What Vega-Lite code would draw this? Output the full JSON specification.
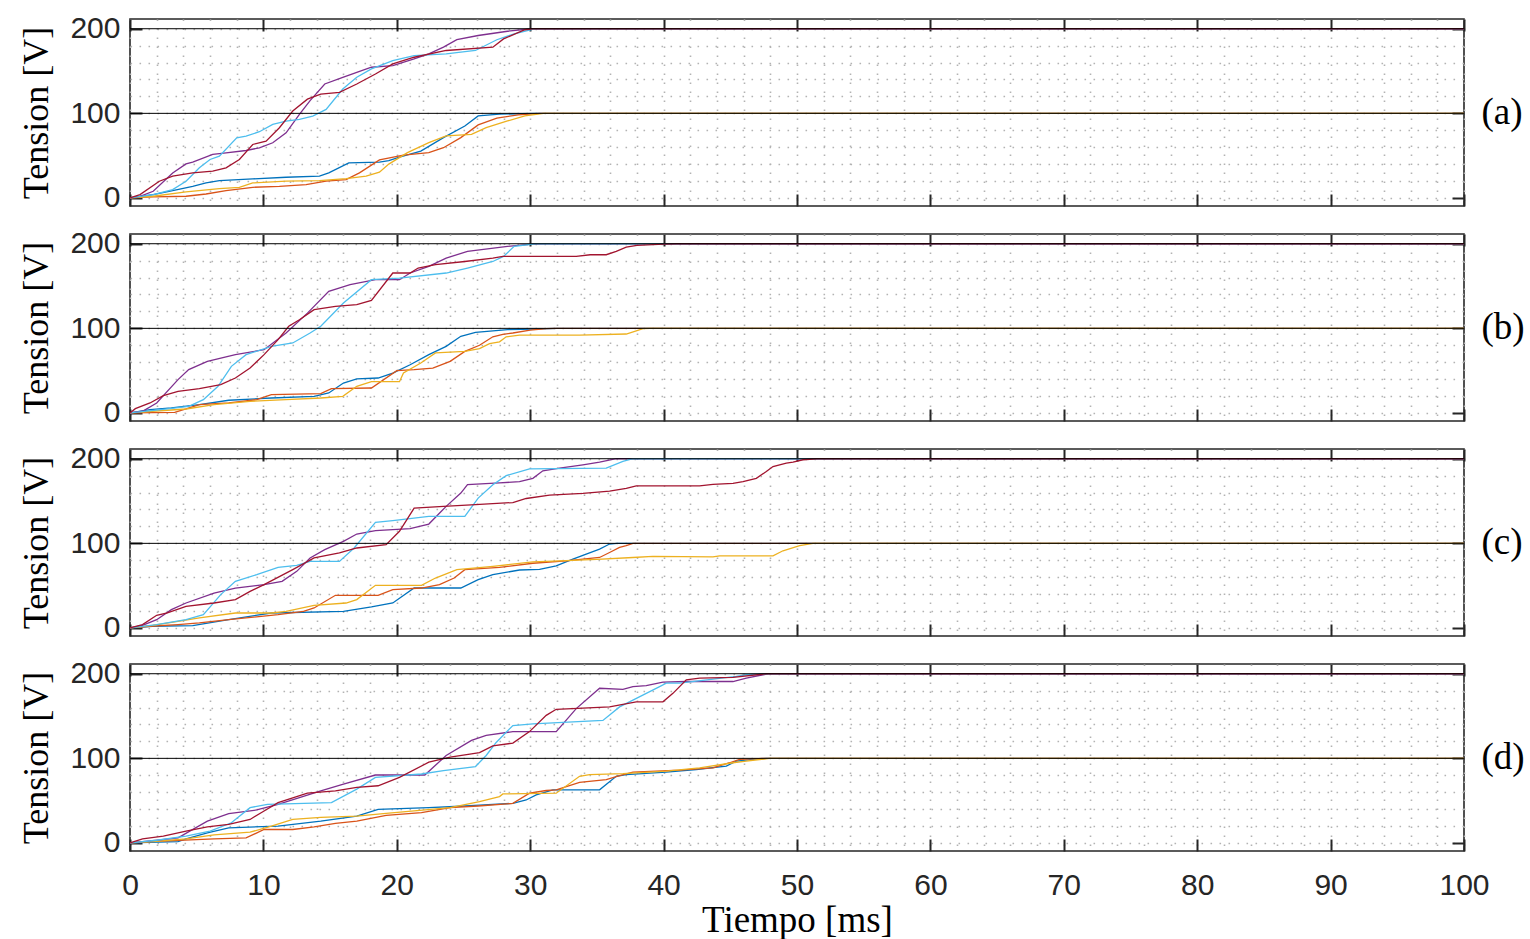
{
"$schema":"https://vega.github.io/schema/vega-lite/v6.json",
"background":"white",
"padding":{"left":18,"top":12,"right":0,"bottom":0},
"bounds":"flush",
"spacing":28,
"config":{"view":{"stroke":"#262626","strokeWidth":1.6},"axis":{"domain":false}},
"data":{"values":[
{"p":"a","s":"B","t":0,"v":0},{"p":"a","s":"B","t":0.75,"v":2},{"p":"a","s":"B","t":1.74,"v":4},{"p":"a","s":"B","t":3.2,"v":8.7},{"p":"a","s":"B","t":4.7,"v":13.8},{"p":"a","s":"B","t":5.7,"v":17.8},{"p":"a","s":"B","t":6.7,"v":20.6},{"p":"a","s":"B","t":9.2,"v":22.5},{"p":"a","s":"B","t":11.7,"v":24.5},{"p":"a","s":"B","t":14.2,"v":25.7},{"p":"a","s":"B","t":14.9,"v":29.6},{"p":"a","s":"B","t":16.4,"v":41.5},{"p":"a","s":"B","t":18.7,"v":42.3},{"p":"a","s":"B","t":19.4,"v":44},{"p":"a","s":"B","t":20.2,"v":48.3},{"p":"a","s":"B","t":21.8,"v":55.4},{"p":"a","s":"B","t":23.5,"v":71.3},{"p":"a","s":"B","t":25.1,"v":85.1},{"p":"a","s":"B","t":26.1,"v":97},{"p":"a","s":"B","t":27.7,"v":99},{"p":"a","s":"B","t":30.4,"v":100},{"p":"a","s":"B","t":100,"v":100},
{"p":"a","s":"O","t":0,"v":0},{"p":"a","s":"O","t":1.74,"v":1.2},{"p":"a","s":"O","t":4.2,"v":2},{"p":"a","s":"O","t":5.7,"v":4.7},{"p":"a","s":"O","t":7.2,"v":8.7},{"p":"a","s":"O","t":9.2,"v":12.6},{"p":"a","s":"O","t":11.2,"v":13.8},{"p":"a","s":"O","t":13.2,"v":15.8},{"p":"a","s":"O","t":14.7,"v":19.8},{"p":"a","s":"O","t":16.2,"v":21.7},{"p":"a","s":"O","t":17.2,"v":29.6},{"p":"a","s":"O","t":18.7,"v":45},{"p":"a","s":"O","t":20.5,"v":50.7},{"p":"a","s":"O","t":22.4,"v":53.5},{"p":"a","s":"O","t":23.5,"v":59.4},{"p":"a","s":"O","t":24.8,"v":71.3},{"p":"a","s":"O","t":26.1,"v":86.3},{"p":"a","s":"O","t":27.5,"v":94.3},{"p":"a","s":"O","t":29.1,"v":98.2},{"p":"a","s":"O","t":30.7,"v":100},{"p":"a","s":"O","t":100,"v":100},
{"p":"a","s":"Y","t":0,"v":0},{"p":"a","s":"Y","t":1.74,"v":2},{"p":"a","s":"Y","t":4.2,"v":7.1},{"p":"a","s":"Y","t":6.7,"v":11},{"p":"a","s":"Y","t":8.2,"v":12.6},{"p":"a","s":"Y","t":9.2,"v":17.8},{"p":"a","s":"Y","t":11.7,"v":19.8},{"p":"a","s":"Y","t":14.2,"v":20.6},{"p":"a","s":"Y","t":16.2,"v":22.9},{"p":"a","s":"Y","t":17.7,"v":25.7},{"p":"a","s":"Y","t":18.7,"v":30.4},{"p":"a","s":"Y","t":19.4,"v":40},{"p":"a","s":"Y","t":20.8,"v":53.5},{"p":"a","s":"Y","t":22.4,"v":65.3},{"p":"a","s":"Y","t":23.7,"v":73.3},{"p":"a","s":"Y","t":25.6,"v":75.2},{"p":"a","s":"Y","t":26.7,"v":83.2},{"p":"a","s":"Y","t":28.3,"v":91},{"p":"a","s":"Y","t":29.6,"v":97},{"p":"a","s":"Y","t":31,"v":100},{"p":"a","s":"Y","t":100,"v":100},
{"p":"a","s":"P","t":0,"v":0},{"p":"a","s":"P","t":0.75,"v":2},{"p":"a","s":"P","t":1.74,"v":7.9},{"p":"a","s":"P","t":3.2,"v":29.6},{"p":"a","s":"P","t":4.2,"v":40.3},{"p":"a","s":"P","t":4.7,"v":42.3},{"p":"a","s":"P","t":6.2,"v":51.4},{"p":"a","s":"P","t":7.2,"v":53.4},{"p":"a","s":"P","t":8.7,"v":56.1},{"p":"a","s":"P","t":9.7,"v":59.3},{"p":"a","s":"P","t":10.7,"v":65.2},{"p":"a","s":"P","t":11.7,"v":77},{"p":"a","s":"P","t":12.7,"v":98.8},{"p":"a","s":"P","t":13.5,"v":115},{"p":"a","s":"P","t":14.6,"v":134.7},{"p":"a","s":"P","t":15.95,"v":142.6},{"p":"a","s":"P","t":17,"v":148.5},{"p":"a","s":"P","t":18.1,"v":154.5},{"p":"a","s":"P","t":19.7,"v":156.4},{"p":"a","s":"P","t":21.3,"v":164.4},{"p":"a","s":"P","t":22.4,"v":170.3},{"p":"a","s":"P","t":23.5,"v":178.2},{"p":"a","s":"P","t":24.5,"v":187},{"p":"a","s":"P","t":26.1,"v":192},{"p":"a","s":"P","t":28.3,"v":197},{"p":"a","s":"P","t":30.1,"v":200},{"p":"a","s":"P","t":100,"v":200},
{"p":"a","s":"L","t":0,"v":0},{"p":"a","s":"L","t":1.74,"v":4},{"p":"a","s":"L","t":3.2,"v":9.9},{"p":"a","s":"L","t":4.2,"v":19.8},{"p":"a","s":"L","t":5.2,"v":35.6},{"p":"a","s":"L","t":6,"v":45.5},{"p":"a","s":"L","t":6.7,"v":49.4},{"p":"a","s":"L","t":8,"v":71.1},{"p":"a","s":"L","t":8.7,"v":73.1},{"p":"a","s":"L","t":9.7,"v":78.3},{"p":"a","s":"L","t":10.7,"v":87},{"p":"a","s":"L","t":11.7,"v":90.9},{"p":"a","s":"L","t":12.7,"v":92.9},{"p":"a","s":"L","t":13.7,"v":96.8},{"p":"a","s":"L","t":14.7,"v":104.7},{"p":"a","s":"L","t":15.95,"v":128.7},{"p":"a","s":"L","t":17,"v":142.6},{"p":"a","s":"L","t":18.1,"v":152.5},{"p":"a","s":"L","t":19.7,"v":162.4},{"p":"a","s":"L","t":21.3,"v":168.3},{"p":"a","s":"L","t":23.7,"v":170.3},{"p":"a","s":"L","t":25.9,"v":174.3},{"p":"a","s":"L","t":27.5,"v":187},{"p":"a","s":"L","t":28.8,"v":194},{"p":"a","s":"L","t":30.4,"v":200},{"p":"a","s":"L","t":100,"v":200},
{"p":"a","s":"R","t":0,"v":0},{"p":"a","s":"R","t":0.75,"v":4},{"p":"a","s":"R","t":2.2,"v":19.8},{"p":"a","s":"R","t":3.2,"v":25.7},{"p":"a","s":"R","t":4.7,"v":29.6},{"p":"a","s":"R","t":6.2,"v":31.6},{"p":"a","s":"R","t":7.2,"v":35.6},{"p":"a","s":"R","t":8.2,"v":45.5},{"p":"a","s":"R","t":9.2,"v":63.2},{"p":"a","s":"R","t":10.2,"v":67.2},{"p":"a","s":"R","t":11.2,"v":83},{"p":"a","s":"R","t":12.2,"v":102.8},{"p":"a","s":"R","t":13.3,"v":116.8},{"p":"a","s":"R","t":14.3,"v":122.8},{"p":"a","s":"R","t":15.7,"v":124.8},{"p":"a","s":"R","t":17,"v":134.7},{"p":"a","s":"R","t":18.4,"v":146.5},{"p":"a","s":"R","t":19.7,"v":158.4},{"p":"a","s":"R","t":21.3,"v":166.3},{"p":"a","s":"R","t":23.7,"v":174.3},{"p":"a","s":"R","t":27.2,"v":178.2},{"p":"a","s":"R","t":28,"v":188},{"p":"a","s":"R","t":29.6,"v":198.8},{"p":"a","s":"R","t":30.2,"v":200},{"p":"a","s":"R","t":100,"v":200},
{"p":"b","s":"B","t":0,"v":0},{"p":"b","s":"B","t":1.5,"v":3.9},{"p":"b","s":"B","t":3.1,"v":5.9},{"p":"b","s":"B","t":5.2,"v":9.8},{"p":"b","s":"B","t":7.4,"v":15},{"p":"b","s":"B","t":10.6,"v":17.7},{"p":"b","s":"B","t":13.8,"v":19.7},{"p":"b","s":"B","t":14.9,"v":23.6},{"p":"b","s":"B","t":16,"v":35.4},{"p":"b","s":"B","t":17,"v":40.2},{"p":"b","s":"B","t":18.6,"v":41.3},{"p":"b","s":"B","t":19.7,"v":47.2},{"p":"b","s":"B","t":21,"v":57},{"p":"b","s":"B","t":22.4,"v":69},{"p":"b","s":"B","t":23.7,"v":78.7},{"p":"b","s":"B","t":24.8,"v":90.6},{"p":"b","s":"B","t":25.9,"v":95.3},{"p":"b","s":"B","t":28.3,"v":98.4},{"p":"b","s":"B","t":30.4,"v":99.2},{"p":"b","s":"B","t":32,"v":100},{"p":"b","s":"B","t":100,"v":100},
{"p":"b","s":"O","t":0,"v":0},{"p":"b","s":"O","t":3.35,"v":0.8},{"p":"b","s":"O","t":4.2,"v":4.7},{"p":"b","s":"O","t":5.2,"v":9.8},{"p":"b","s":"O","t":7.4,"v":11.8},{"p":"b","s":"O","t":9.5,"v":15.7},{"p":"b","s":"O","t":10.6,"v":21.7},{"p":"b","s":"O","t":14.3,"v":22.8},{"p":"b","s":"O","t":15.1,"v":28.7},{"p":"b","s":"O","t":18.1,"v":29.5},{"p":"b","s":"O","t":20,"v":50},{"p":"b","s":"O","t":21.3,"v":51.2},{"p":"b","s":"O","t":22.7,"v":53.1},{"p":"b","s":"O","t":24,"v":61},{"p":"b","s":"O","t":25.1,"v":72.8},{"p":"b","s":"O","t":26.2,"v":80},{"p":"b","s":"O","t":27.2,"v":90},{"p":"b","s":"O","t":27.95,"v":93},{"p":"b","s":"O","t":28.7,"v":94.5},{"p":"b","s":"O","t":30,"v":98},{"p":"b","s":"O","t":31.2,"v":99.6},{"p":"b","s":"O","t":32,"v":100},{"p":"b","s":"O","t":100,"v":100},
{"p":"b","s":"Y","t":0,"v":0},{"p":"b","s":"Y","t":1.7,"v":2},{"p":"b","s":"Y","t":4.2,"v":4.7},{"p":"b","s":"Y","t":6.3,"v":9.8},{"p":"b","s":"Y","t":9,"v":13.8},{"p":"b","s":"Y","t":11.7,"v":15.7},{"p":"b","s":"Y","t":14.3,"v":17.7},{"p":"b","s":"Y","t":15.95,"v":19.7},{"p":"b","s":"Y","t":17,"v":31.5},{"p":"b","s":"Y","t":18.1,"v":37},{"p":"b","s":"Y","t":20.2,"v":37},{"p":"b","s":"Y","t":20.5,"v":47.2},{"p":"b","s":"Y","t":21.8,"v":59},{"p":"b","s":"Y","t":22.9,"v":70.9},{"p":"b","s":"Y","t":25.1,"v":72.8},{"p":"b","s":"Y","t":26.2,"v":76},{"p":"b","s":"Y","t":26.95,"v":82},{"p":"b","s":"Y","t":27.7,"v":84},{"p":"b","s":"Y","t":28.2,"v":90},{"p":"b","s":"Y","t":29.2,"v":92},{"p":"b","s":"Y","t":33.7,"v":92},{"p":"b","s":"Y","t":37.2,"v":93.3},{"p":"b","s":"Y","t":37.95,"v":97},{"p":"b","s":"Y","t":38.45,"v":99.6},{"p":"b","s":"Y","t":39,"v":100},{"p":"b","s":"Y","t":100,"v":100},
{"p":"b","s":"P","t":0,"v":0},{"p":"b","s":"P","t":0.94,"v":2},{"p":"b","s":"P","t":2,"v":11.8},{"p":"b","s":"P","t":3.6,"v":39.4},{"p":"b","s":"P","t":4.4,"v":51.2},{"p":"b","s":"P","t":5.8,"v":61},{"p":"b","s":"P","t":7.9,"v":68.9},{"p":"b","s":"P","t":10.05,"v":74.8},{"p":"b","s":"P","t":11.7,"v":94.5},{"p":"b","s":"P","t":13.3,"v":118},{"p":"b","s":"P","t":14.9,"v":143.7},{"p":"b","s":"P","t":16.5,"v":151.6},{"p":"b","s":"P","t":18.4,"v":157.5},{"p":"b","s":"P","t":20.2,"v":157.5},{"p":"b","s":"P","t":21,"v":165.4},{"p":"b","s":"P","t":22.4,"v":173.2},{"p":"b","s":"P","t":23.7,"v":183},{"p":"b","s":"P","t":25.3,"v":191},{"p":"b","s":"P","t":28.3,"v":196.9},{"p":"b","s":"P","t":30.1,"v":199.6},{"p":"b","s":"P","t":31,"v":200},{"p":"b","s":"P","t":100,"v":200},
{"p":"b","s":"L","t":0,"v":0},{"p":"b","s":"L","t":2.3,"v":3.9},{"p":"b","s":"L","t":4.4,"v":7.9},{"p":"b","s":"L","t":5.5,"v":15.7},{"p":"b","s":"L","t":6.6,"v":31.5},{"p":"b","s":"L","t":7.6,"v":55.1},{"p":"b","s":"L","t":8.7,"v":68.9},{"p":"b","s":"L","t":10.6,"v":78.7},{"p":"b","s":"L","t":12.2,"v":82.7},{"p":"b","s":"L","t":13.5,"v":94.5},{"p":"b","s":"L","t":14.3,"v":102.4},{"p":"b","s":"L","t":16,"v":129.9},{"p":"b","s":"L","t":18.1,"v":157.5},{"p":"b","s":"L","t":20.2,"v":159.4},{"p":"b","s":"L","t":23.7,"v":165.4},{"p":"b","s":"L","t":25.3,"v":171.3},{"p":"b","s":"L","t":27.2,"v":179},{"p":"b","s":"L","t":28,"v":185},{"p":"b","s":"L","t":28.8,"v":196.9},{"p":"b","s":"L","t":30.4,"v":200},{"p":"b","s":"L","t":100,"v":200},
{"p":"b","s":"R","t":0,"v":0},{"p":"b","s":"R","t":0.4,"v":5.1},{"p":"b","s":"R","t":1.5,"v":11.8},{"p":"b","s":"R","t":2.5,"v":20.5},{"p":"b","s":"R","t":3.6,"v":25.6},{"p":"b","s":"R","t":5.2,"v":28.7},{"p":"b","s":"R","t":6.8,"v":33.5},{"p":"b","s":"R","t":7.9,"v":41.3},{"p":"b","s":"R","t":9,"v":53.1},{"p":"b","s":"R","t":10.05,"v":68.9},{"p":"b","s":"R","t":11.1,"v":86.6},{"p":"b","s":"R","t":11.9,"v":102.4},{"p":"b","s":"R","t":12.7,"v":110.2},{"p":"b","s":"R","t":13.8,"v":122},{"p":"b","s":"R","t":15.4,"v":126},{"p":"b","s":"R","t":17,"v":128},{"p":"b","s":"R","t":18.1,"v":133},{"p":"b","s":"R","t":19.7,"v":165.4},{"p":"b","s":"R","t":21,"v":165.4},{"p":"b","s":"R","t":21.6,"v":171.3},{"p":"b","s":"R","t":22.9,"v":175.2},{"p":"b","s":"R","t":25.1,"v":179},{"p":"b","s":"R","t":27.2,"v":183},{"p":"b","s":"R","t":27.95,"v":185},{"p":"b","s":"R","t":33.45,"v":185},{"p":"b","s":"R","t":34.5,"v":187},{"p":"b","s":"R","t":35.7,"v":187},{"p":"b","s":"R","t":36.45,"v":191},{"p":"b","s":"R","t":37.2,"v":196},{"p":"b","s":"R","t":38,"v":198},{"p":"b","s":"R","t":40,"v":199.5},{"p":"b","s":"R","t":41,"v":200},{"p":"b","s":"R","t":100,"v":200},
{"p":"c","s":"B","t":0,"v":0},{"p":"c","s":"B","t":1.7,"v":2},{"p":"c","s":"B","t":4.7,"v":2.8},{"p":"c","s":"B","t":7.4,"v":9.8},{"p":"c","s":"B","t":10.6,"v":17.7},{"p":"c","s":"B","t":16,"v":19.7},{"p":"c","s":"B","t":18.1,"v":24.8},{"p":"c","s":"B","t":19.7,"v":29.5},{"p":"c","s":"B","t":21.3,"v":47.2},{"p":"c","s":"B","t":24.8,"v":47.2},{"p":"c","s":"B","t":26.1,"v":57.1},{"p":"c","s":"B","t":27.2,"v":63},{"p":"c","s":"B","t":29.2,"v":68.5},{"p":"c","s":"B","t":30.7,"v":69.3},{"p":"c","s":"B","t":31.95,"v":73.3},{"p":"c","s":"B","t":33.2,"v":81.3},{"p":"c","s":"B","t":34.2,"v":87.3},{"p":"c","s":"B","t":35.2,"v":93.2},{"p":"c","s":"B","t":35.95,"v":99.2},{"p":"c","s":"B","t":36.5,"v":100},{"p":"c","s":"B","t":100,"v":100},
{"p":"c","s":"O","t":0,"v":0},{"p":"c","s":"O","t":1.5,"v":2},{"p":"c","s":"O","t":3.6,"v":3.9},{"p":"c","s":"O","t":5.2,"v":5.9},{"p":"c","s":"O","t":7.4,"v":9.8},{"p":"c","s":"O","t":11.1,"v":15.7},{"p":"c","s":"O","t":13,"v":19.7},{"p":"c","s":"O","t":13.8,"v":23.6},{"p":"c","s":"O","t":15.4,"v":38.6},{"p":"c","s":"O","t":18.6,"v":38.6},{"p":"c","s":"O","t":19.7,"v":45.3},{"p":"c","s":"O","t":21.85,"v":47.2},{"p":"c","s":"O","t":23.2,"v":51.2},{"p":"c","s":"O","t":24.3,"v":59},{"p":"c","s":"O","t":25.1,"v":68.9},{"p":"c","s":"O","t":27.7,"v":71.5},{"p":"c","s":"O","t":30.2,"v":76.5},{"p":"c","s":"O","t":32.7,"v":79.3},{"p":"c","s":"O","t":35.2,"v":83.3},{"p":"c","s":"O","t":35.95,"v":89.2},{"p":"c","s":"O","t":36.7,"v":95.2},{"p":"c","s":"O","t":37.2,"v":97.2},{"p":"c","s":"O","t":37.7,"v":100},{"p":"c","s":"O","t":100,"v":100},
{"p":"c","s":"Y","t":0,"v":0},{"p":"c","s":"Y","t":1.7,"v":3.1},{"p":"c","s":"Y","t":3.6,"v":7.9},{"p":"c","s":"Y","t":5.2,"v":11.8},{"p":"c","s":"Y","t":7.9,"v":17.7},{"p":"c","s":"Y","t":10.6,"v":17.7},{"p":"c","s":"Y","t":11.7,"v":19.7},{"p":"c","s":"Y","t":13.8,"v":26.8},{"p":"c","s":"Y","t":16.2,"v":29.5},{"p":"c","s":"Y","t":17,"v":33.5},{"p":"c","s":"Y","t":18.4,"v":50.4},{"p":"c","s":"Y","t":21.85,"v":50.4},{"p":"c","s":"Y","t":22.9,"v":59},{"p":"c","s":"Y","t":24.5,"v":68.9},{"p":"c","s":"Y","t":27.2,"v":72.8},{"p":"c","s":"Y","t":30.2,"v":78},{"p":"c","s":"Y","t":32.2,"v":79.3},{"p":"c","s":"Y","t":35,"v":81},{"p":"c","s":"Y","t":37.7,"v":83.3},{"p":"c","s":"Y","t":39.2,"v":84.5},{"p":"c","s":"Y","t":43.7,"v":84},{"p":"c","s":"Y","t":44.2,"v":85.3},{"p":"c","s":"Y","t":48.2,"v":85.3},{"p":"c","s":"Y","t":48.95,"v":91.2},{"p":"c","s":"Y","t":50.2,"v":97.2},{"p":"c","s":"Y","t":51.2,"v":100},{"p":"c","s":"Y","t":100,"v":100},
{"p":"c","s":"P","t":0,"v":0},{"p":"c","s":"P","t":0.94,"v":3.1},{"p":"c","s":"P","t":2,"v":9.8},{"p":"c","s":"P","t":3.1,"v":21.7},{"p":"c","s":"P","t":4.2,"v":29.5},{"p":"c","s":"P","t":6.3,"v":41.3},{"p":"c","s":"P","t":7.9,"v":47.2},{"p":"c","s":"P","t":10.05,"v":51.2},{"p":"c","s":"P","t":11.4,"v":55.1},{"p":"c","s":"P","t":12.5,"v":66.9},{"p":"c","s":"P","t":13.5,"v":82.7},{"p":"c","s":"P","t":14.6,"v":92.5},{"p":"c","s":"P","t":16,"v":102.4},{"p":"c","s":"P","t":17,"v":111},{"p":"c","s":"P","t":18.4,"v":115},{"p":"c","s":"P","t":21,"v":117.3},{"p":"c","s":"P","t":22.4,"v":122.8},{"p":"c","s":"P","t":23.7,"v":143.7},{"p":"c","s":"P","t":24.8,"v":159.4},{"p":"c","s":"P","t":25.3,"v":169.3},{"p":"c","s":"P","t":27.7,"v":171.5},{"p":"c","s":"P","t":29.2,"v":172.9},{"p":"c","s":"P","t":30.2,"v":176.9},{"p":"c","s":"P","t":30.95,"v":185.7},{"p":"c","s":"P","t":32.2,"v":188.8},{"p":"c","s":"P","t":33.95,"v":192.8},{"p":"c","s":"P","t":35.2,"v":196},{"p":"c","s":"P","t":36.45,"v":200},{"p":"c","s":"P","t":100,"v":200},
{"p":"c","s":"L","t":0,"v":0},{"p":"c","s":"L","t":2,"v":3.9},{"p":"c","s":"L","t":4.2,"v":9.8},{"p":"c","s":"L","t":5.5,"v":15.7},{"p":"c","s":"L","t":6.8,"v":39.4},{"p":"c","s":"L","t":7.9,"v":55.1},{"p":"c","s":"L","t":9.5,"v":63},{"p":"c","s":"L","t":11.1,"v":71.7},{"p":"c","s":"L","t":12.5,"v":74},{"p":"c","s":"L","t":13.5,"v":78.7},{"p":"c","s":"L","t":15.7,"v":78.7},{"p":"c","s":"L","t":16.8,"v":94.5},{"p":"c","s":"L","t":18.4,"v":124.8},{"p":"c","s":"L","t":19.7,"v":126.8},{"p":"c","s":"L","t":22.4,"v":131.9},{"p":"c","s":"L","t":25.1,"v":131.9},{"p":"c","s":"L","t":26.1,"v":153.5},{"p":"c","s":"L","t":27.2,"v":169.3},{"p":"c","s":"L","t":28.2,"v":180},{"p":"c","s":"L","t":29.95,"v":188},{"p":"c","s":"L","t":35.7,"v":188.8},{"p":"c","s":"L","t":36.95,"v":196.8},{"p":"c","s":"L","t":37.7,"v":200},{"p":"c","s":"L","t":100,"v":200},
{"p":"c","s":"R","t":0,"v":0},{"p":"c","s":"R","t":0.94,"v":3.9},{"p":"c","s":"R","t":2,"v":15},{"p":"c","s":"R","t":2.8,"v":17.7},{"p":"c","s":"R","t":4.2,"v":25.6},{"p":"c","s":"R","t":6.3,"v":29.5},{"p":"c","s":"R","t":7.9,"v":33.5},{"p":"c","s":"R","t":9,"v":43.3},{"p":"c","s":"R","t":10.05,"v":51.2},{"p":"c","s":"R","t":12.2,"v":68.9},{"p":"c","s":"R","t":13.8,"v":82.7},{"p":"c","s":"R","t":15.7,"v":88.6},{"p":"c","s":"R","t":17,"v":94.5},{"p":"c","s":"R","t":19.2,"v":98.4},{"p":"c","s":"R","t":20.2,"v":114.2},{"p":"c","s":"R","t":21.3,"v":141.7},{"p":"c","s":"R","t":23.5,"v":143.7},{"p":"c","s":"R","t":25.9,"v":145.7},{"p":"c","s":"R","t":28.7,"v":148.2},{"p":"c","s":"R","t":29.7,"v":153},{"p":"c","s":"R","t":31.45,"v":157},{"p":"c","s":"R","t":33.95,"v":159},{"p":"c","s":"R","t":35.95,"v":161.8},{"p":"c","s":"R","t":37.2,"v":165},{"p":"c","s":"R","t":37.95,"v":168},{"p":"c","s":"R","t":42.7,"v":168},{"p":"c","s":"R","t":43.7,"v":169.7},{"p":"c","s":"R","t":45.2,"v":170.9},{"p":"c","s":"R","t":45.95,"v":172.9},{"p":"c","s":"R","t":46.95,"v":176.9},{"p":"c","s":"R","t":47.7,"v":184.9},{"p":"c","s":"R","t":48.2,"v":190.8},{"p":"c","s":"R","t":49.2,"v":194.8},{"p":"c","s":"R","t":49.7,"v":196},{"p":"c","s":"R","t":50.45,"v":198.8},{"p":"c","s":"R","t":51.45,"v":200},{"p":"c","s":"R","t":100,"v":200},
{"p":"d","s":"B","t":0,"v":0},{"p":"d","s":"B","t":3.6,"v":1.6},{"p":"d","s":"B","t":4.2,"v":4.8},{"p":"d","s":"B","t":5.8,"v":11.9},{"p":"d","s":"B","t":7.4,"v":17.9},{"p":"d","s":"B","t":11.1,"v":19.9},{"p":"d","s":"B","t":14.3,"v":25.8},{"p":"d","s":"B","t":17,"v":31.8},{"p":"d","s":"B","t":18.6,"v":39.8},{"p":"d","s":"B","t":22.4,"v":41.7},{"p":"d","s":"B","t":25.1,"v":43.7},{"p":"d","s":"B","t":26.2,"v":44.8},{"p":"d","s":"B","t":28.7,"v":46.8},{"p":"d","s":"B","t":29.7,"v":50.8},{"p":"d","s":"B","t":30.45,"v":56.8},{"p":"d","s":"B","t":31.7,"v":62.8},{"p":"d","s":"B","t":35.2,"v":62.8},{"p":"d","s":"B","t":36.45,"v":78.8},{"p":"d","s":"B","t":37.2,"v":80.8},{"p":"d","s":"B","t":40.2,"v":83.6},{"p":"d","s":"B","t":42.45,"v":86.8},{"p":"d","s":"B","t":44.7,"v":90.8},{"p":"d","s":"B","t":45.45,"v":96.8},{"p":"d","s":"B","t":46.7,"v":98.8},{"p":"d","s":"B","t":47.7,"v":100},{"p":"d","s":"B","t":100,"v":100},
{"p":"d","s":"O","t":0,"v":0},{"p":"d","s":"O","t":1.5,"v":1.6},{"p":"d","s":"O","t":6.3,"v":4.8},{"p":"d","s":"O","t":8.7,"v":6},{"p":"d","s":"O","t":10.05,"v":15.9},{"p":"d","s":"O","t":12.2,"v":15.9},{"p":"d","s":"O","t":13.8,"v":19.1},{"p":"d","s":"O","t":15.4,"v":23.1},{"p":"d","s":"O","t":17,"v":25.8},{"p":"d","s":"O","t":19.2,"v":32.6},{"p":"d","s":"O","t":21.85,"v":35.8},{"p":"d","s":"O","t":24,"v":41.7},{"p":"d","s":"O","t":26.1,"v":43.7},{"p":"d","s":"O","t":28.7,"v":46.8},{"p":"d","s":"O","t":29.95,"v":58.8},{"p":"d","s":"O","t":31.2,"v":62},{"p":"d","s":"O","t":31.95,"v":62.8},{"p":"d","s":"O","t":33.7,"v":71.6},{"p":"d","s":"O","t":35.7,"v":74.8},{"p":"d","s":"O","t":36.7,"v":79.6},{"p":"d","s":"O","t":37.7,"v":83.6},{"p":"d","s":"O","t":41.2,"v":86},{"p":"d","s":"O","t":43.7,"v":88.8},{"p":"d","s":"O","t":44.95,"v":94.8},{"p":"d","s":"O","t":45.7,"v":98.8},{"p":"d","s":"O","t":47.7,"v":100},{"p":"d","s":"O","t":100,"v":100},
{"p":"d","s":"Y","t":0,"v":0},{"p":"d","s":"Y","t":2,"v":2},{"p":"d","s":"Y","t":4.2,"v":4.8},{"p":"d","s":"Y","t":6.3,"v":9.5},{"p":"d","s":"Y","t":9,"v":12.7},{"p":"d","s":"Y","t":10.6,"v":19.9},{"p":"d","s":"Y","t":12.2,"v":27.8},{"p":"d","s":"Y","t":14.3,"v":30.2},{"p":"d","s":"Y","t":17,"v":31.8},{"p":"d","s":"Y","t":19.2,"v":35},{"p":"d","s":"Y","t":21.3,"v":37.8},{"p":"d","s":"Y","t":24,"v":41.7},{"p":"d","s":"Y","t":26.2,"v":48.8},{"p":"d","s":"Y","t":27.7,"v":54.8},{"p":"d","s":"Y","t":27.95,"v":58},{"p":"d","s":"Y","t":31.95,"v":58.8},{"p":"d","s":"Y","t":33.7,"v":78.8},{"p":"d","s":"Y","t":34.45,"v":80.8},{"p":"d","s":"Y","t":36.95,"v":82},{"p":"d","s":"Y","t":40.2,"v":84.8},{"p":"d","s":"Y","t":42.7,"v":88.8},{"p":"d","s":"Y","t":45.2,"v":94.8},{"p":"d","s":"Y","t":46.2,"v":96.8},{"p":"d","s":"Y","t":47.95,"v":100},{"p":"d","s":"Y","t":100,"v":100},
{"p":"d","s":"P","t":0,"v":0},{"p":"d","s":"P","t":1.7,"v":2.8},{"p":"d","s":"P","t":3.6,"v":6},{"p":"d","s":"P","t":5.8,"v":25.8},{"p":"d","s":"P","t":7.4,"v":34.6},{"p":"d","s":"P","t":9.5,"v":39},{"p":"d","s":"P","t":11.1,"v":45.7},{"p":"d","s":"P","t":12.7,"v":53.7},{"p":"d","s":"P","t":14.3,"v":61.6},{"p":"d","s":"P","t":16,"v":69.6},{"p":"d","s":"P","t":18.4,"v":80.3},{"p":"d","s":"P","t":22.1,"v":80.3},{"p":"d","s":"P","t":23.7,"v":103.4},{"p":"d","s":"P","t":25.6,"v":121.3},{"p":"d","s":"P","t":26.7,"v":127.2},{"p":"d","s":"P","t":28.7,"v":131.6},{"p":"d","s":"P","t":31.95,"v":131.6},{"p":"d","s":"P","t":33.45,"v":158.8},{"p":"d","s":"P","t":35.2,"v":182.8},{"p":"d","s":"P","t":36.95,"v":181.6},{"p":"d","s":"P","t":37.7,"v":184.8},{"p":"d","s":"P","t":38.7,"v":186},{"p":"d","s":"P","t":39.95,"v":190},{"p":"d","s":"P","t":41.7,"v":190.8},{"p":"d","s":"P","t":45.2,"v":190.8},{"p":"d","s":"P","t":46.2,"v":194.8},{"p":"d","s":"P","t":47.45,"v":198.8},{"p":"d","s":"P","t":47.95,"v":200},{"p":"d","s":"P","t":100,"v":200},
{"p":"d","s":"L","t":0,"v":0},{"p":"d","s":"L","t":2,"v":3.2},{"p":"d","s":"L","t":4.2,"v":8},{"p":"d","s":"L","t":6,"v":13.9},{"p":"d","s":"L","t":7.6,"v":23.9},{"p":"d","s":"L","t":9,"v":41.7},{"p":"d","s":"L","t":10.3,"v":45.7},{"p":"d","s":"L","t":15.1,"v":47.7},{"p":"d","s":"L","t":17,"v":63.6},{"p":"d","s":"L","t":18.4,"v":77.5},{"p":"d","s":"L","t":21.85,"v":81.5},{"p":"d","s":"L","t":23.5,"v":85.5},{"p":"d","s":"L","t":25.9,"v":90.3},{"p":"d","s":"L","t":26.7,"v":103.4},{"p":"d","s":"L","t":27.45,"v":118.8},{"p":"d","s":"L","t":28.7,"v":138.8},{"p":"d","s":"L","t":30.2,"v":140.8},{"p":"d","s":"L","t":35.45,"v":144.8},{"p":"d","s":"L","t":36.7,"v":160.8},{"p":"d","s":"L","t":37.7,"v":168.8},{"p":"d","s":"L","t":38.7,"v":176.8},{"p":"d","s":"L","t":39.7,"v":184.8},{"p":"d","s":"L","t":40.2,"v":188.8},{"p":"d","s":"L","t":41.2,"v":188.8},{"p":"d","s":"L","t":45.45,"v":196.8},{"p":"d","s":"L","t":46.2,"v":198.8},{"p":"d","s":"L","t":47.45,"v":200},{"p":"d","s":"L","t":100,"v":200},
{"p":"d","s":"R","t":0,"v":0},{"p":"d","s":"R","t":0.94,"v":4.8},{"p":"d","s":"R","t":2.5,"v":8},{"p":"d","s":"R","t":4.2,"v":13.9},{"p":"d","s":"R","t":5.8,"v":19.1},{"p":"d","s":"R","t":7.4,"v":21.9},{"p":"d","s":"R","t":9,"v":27.8},{"p":"d","s":"R","t":10.05,"v":37.8},{"p":"d","s":"R","t":11.1,"v":47.7},{"p":"d","s":"R","t":13.3,"v":58.8},{"p":"d","s":"R","t":15.4,"v":61.6},{"p":"d","s":"R","t":17,"v":65.6},{"p":"d","s":"R","t":18.6,"v":67.6},{"p":"d","s":"R","t":20.2,"v":77.5},{"p":"d","s":"R","t":22.4,"v":95.4},{"p":"d","s":"R","t":24,"v":101.4},{"p":"d","s":"R","t":25.6,"v":105.4},{"p":"d","s":"R","t":26.2,"v":106.8},{"p":"d","s":"R","t":27.2,"v":114.8},{"p":"d","s":"R","t":28.7,"v":118},{"p":"d","s":"R","t":29.95,"v":131.6},{"p":"d","s":"R","t":31.2,"v":150.8},{"p":"d","s":"R","t":31.95,"v":158},{"p":"d","s":"R","t":35.95,"v":160.8},{"p":"d","s":"R","t":37.95,"v":166.8},{"p":"d","s":"R","t":39.95,"v":166.8},{"p":"d","s":"R","t":40.7,"v":176.8},{"p":"d","s":"R","t":41.7,"v":192.8},{"p":"d","s":"R","t":42.7,"v":194.8},{"p":"d","s":"R","t":45.2,"v":195.6},{"p":"d","s":"R","t":47.7,"v":200},{"p":"d","s":"R","t":100,"v":200}
]},
"vconcat":[
{"width":1334,"height":187,"resolve":{"axis":{"x":"independent","y":"independent"}},
"layer":[
{"transform":[{"filter":"datum.p === 'a'"}],"mark":{"type":"line","strokeWidth":1.3},
"encoding":{
"x":{"field":"t","type":"quantitative","scale":{"domain":[0,100],"nice":false},"axis":{"orient":"bottom","title":null,"labels":false,"values":[0,2,4,6,8,10,12,14,16,18,20,22,24,26,28,30,32,34,36,38,40,42,44,46,48,50,52,54,56,58,60,62,64,66,68,70,72,74,76,78,80,82,84,86,88,90,92,94,96,98,100],"grid":true,"gridColor":"#b3b3b3","gridDash":[1.6,7.4],"gridWidth":1.6,"tickSize":-12,"tickWidth":2,"tickColor":"#262626","tickOpacity":{"condition":{"test":"datum.value % 10 === 0","value":1},"value":0}}},
"y":{"field":"v","type":"quantitative","scale":{"domain":[-9.5,211.5],"nice":false,"zero":false},"axis":{"orient":"left","values":[0,20,40,60,80,100,120,140,160,180,200],"labelExpr":"datum.value % 100 === 0 ? datum.label : ''","labelOverlap":false,"labelFont":"Liberation Sans","labelFontSize":30,"labelColor":"#262626","labelPadding":22,"grid":true,"gridColor":"#b3b3b3","gridDash":[1.6,7.4],"gridWidth":1.6,"tickSize":-12,"tickWidth":2,"tickColor":"#262626","tickOpacity":{"condition":{"test":"datum.value % 100 === 0","value":1},"value":0},"title":"Tension [V]","titleFont":"Liberation Serif","titleFontSize":36,"titleFontWeight":"normal","titleColor":"black","titlePadding":14}},
"color":{"field":"s","type":"nominal","scale":{"domain":["B","O","Y","P","L","R"],"range":["#0072BD","#D95319","#EDB120","#7E2F8E","#4DBEEE","#A2142F"]},"legend":null}}},
{"data":{"values":[{"v":100},{"v":200}]},"mark":{"type":"rule","color":"black","strokeWidth":1},
"encoding":{"y":{"field":"v","type":"quantitative","scale":{"domain":[-9.5,211.5],"nice":false,"zero":false},"axis":{"orient":"right","values":[0,100,200],"labels":false,"grid":false,"tickSize":-12,"tickWidth":2,"tickColor":"#262626","title":"(a)","titleAngle":0,"titleAlign":"left","titleBaseline":"middle","titleFont":"Liberation Serif","titleFontSize":37,"titleFontWeight":"normal","titleColor":"black","titlePadding":16}}}},
{"data":{"values":[{"t":0},{"t":100}]},"mark":{"type":"rule","strokeOpacity":0},
"encoding":{"x":{"field":"t","type":"quantitative","scale":{"domain":[0,100],"nice":false},"axis":{"orient":"top","values":[0,10,20,30,40,50,60,70,80,90,100],"labels":false,"grid":false,"title":null,"tickSize":-12,"tickWidth":2,"tickColor":"#262626"}}}}
]},
{"width":1334,"height":187,"resolve":{"axis":{"x":"independent","y":"independent"}},
"layer":[
{"transform":[{"filter":"datum.p === 'b'"}],"mark":{"type":"line","strokeWidth":1.3},
"encoding":{
"x":{"field":"t","type":"quantitative","scale":{"domain":[0,100],"nice":false},"axis":{"orient":"bottom","title":null,"labels":false,"values":[0,2,4,6,8,10,12,14,16,18,20,22,24,26,28,30,32,34,36,38,40,42,44,46,48,50,52,54,56,58,60,62,64,66,68,70,72,74,76,78,80,82,84,86,88,90,92,94,96,98,100],"grid":true,"gridColor":"#b3b3b3","gridDash":[1.6,7.4],"gridWidth":1.6,"tickSize":-12,"tickWidth":2,"tickColor":"#262626","tickOpacity":{"condition":{"test":"datum.value % 10 === 0","value":1},"value":0}}},
"y":{"field":"v","type":"quantitative","scale":{"domain":[-9.5,211.5],"nice":false,"zero":false},"axis":{"orient":"left","values":[0,20,40,60,80,100,120,140,160,180,200],"labelExpr":"datum.value % 100 === 0 ? datum.label : ''","labelOverlap":false,"labelFont":"Liberation Sans","labelFontSize":30,"labelColor":"#262626","labelPadding":22,"grid":true,"gridColor":"#b3b3b3","gridDash":[1.6,7.4],"gridWidth":1.6,"tickSize":-12,"tickWidth":2,"tickColor":"#262626","tickOpacity":{"condition":{"test":"datum.value % 100 === 0","value":1},"value":0},"title":"Tension [V]","titleFont":"Liberation Serif","titleFontSize":36,"titleFontWeight":"normal","titleColor":"black","titlePadding":14}},
"color":{"field":"s","type":"nominal","scale":{"domain":["B","O","Y","P","L","R"],"range":["#0072BD","#D95319","#EDB120","#7E2F8E","#4DBEEE","#A2142F"]},"legend":null}}},
{"data":{"values":[{"v":100},{"v":200}]},"mark":{"type":"rule","color":"black","strokeWidth":1},
"encoding":{"y":{"field":"v","type":"quantitative","scale":{"domain":[-9.5,211.5],"nice":false,"zero":false},"axis":{"orient":"right","values":[0,100,200],"labels":false,"grid":false,"tickSize":-12,"tickWidth":2,"tickColor":"#262626","title":"(b)","titleAngle":0,"titleAlign":"left","titleBaseline":"middle","titleFont":"Liberation Serif","titleFontSize":37,"titleFontWeight":"normal","titleColor":"black","titlePadding":16}}}},
{"data":{"values":[{"t":0},{"t":100}]},"mark":{"type":"rule","strokeOpacity":0},
"encoding":{"x":{"field":"t","type":"quantitative","scale":{"domain":[0,100],"nice":false},"axis":{"orient":"top","values":[0,10,20,30,40,50,60,70,80,90,100],"labels":false,"grid":false,"title":null,"tickSize":-12,"tickWidth":2,"tickColor":"#262626"}}}}
]},
{"width":1334,"height":187,"resolve":{"axis":{"x":"independent","y":"independent"}},
"layer":[
{"transform":[{"filter":"datum.p === 'c'"}],"mark":{"type":"line","strokeWidth":1.3},
"encoding":{
"x":{"field":"t","type":"quantitative","scale":{"domain":[0,100],"nice":false},"axis":{"orient":"bottom","title":null,"labels":false,"values":[0,2,4,6,8,10,12,14,16,18,20,22,24,26,28,30,32,34,36,38,40,42,44,46,48,50,52,54,56,58,60,62,64,66,68,70,72,74,76,78,80,82,84,86,88,90,92,94,96,98,100],"grid":true,"gridColor":"#b3b3b3","gridDash":[1.6,7.4],"gridWidth":1.6,"tickSize":-12,"tickWidth":2,"tickColor":"#262626","tickOpacity":{"condition":{"test":"datum.value % 10 === 0","value":1},"value":0}}},
"y":{"field":"v","type":"quantitative","scale":{"domain":[-9.5,211.5],"nice":false,"zero":false},"axis":{"orient":"left","values":[0,20,40,60,80,100,120,140,160,180,200],"labelExpr":"datum.value % 100 === 0 ? datum.label : ''","labelOverlap":false,"labelFont":"Liberation Sans","labelFontSize":30,"labelColor":"#262626","labelPadding":22,"grid":true,"gridColor":"#b3b3b3","gridDash":[1.6,7.4],"gridWidth":1.6,"tickSize":-12,"tickWidth":2,"tickColor":"#262626","tickOpacity":{"condition":{"test":"datum.value % 100 === 0","value":1},"value":0},"title":"Tension [V]","titleFont":"Liberation Serif","titleFontSize":36,"titleFontWeight":"normal","titleColor":"black","titlePadding":14}},
"color":{"field":"s","type":"nominal","scale":{"domain":["B","O","Y","P","L","R"],"range":["#0072BD","#D95319","#EDB120","#7E2F8E","#4DBEEE","#A2142F"]},"legend":null}}},
{"data":{"values":[{"v":100},{"v":200}]},"mark":{"type":"rule","color":"black","strokeWidth":1},
"encoding":{"y":{"field":"v","type":"quantitative","scale":{"domain":[-9.5,211.5],"nice":false,"zero":false},"axis":{"orient":"right","values":[0,100,200],"labels":false,"grid":false,"tickSize":-12,"tickWidth":2,"tickColor":"#262626","title":"(c)","titleAngle":0,"titleAlign":"left","titleBaseline":"middle","titleFont":"Liberation Serif","titleFontSize":37,"titleFontWeight":"normal","titleColor":"black","titlePadding":16}}}},
{"data":{"values":[{"t":0},{"t":100}]},"mark":{"type":"rule","strokeOpacity":0},
"encoding":{"x":{"field":"t","type":"quantitative","scale":{"domain":[0,100],"nice":false},"axis":{"orient":"top","values":[0,10,20,30,40,50,60,70,80,90,100],"labels":false,"grid":false,"title":null,"tickSize":-12,"tickWidth":2,"tickColor":"#262626"}}}}
]},
{"width":1334,"height":187,"resolve":{"axis":{"x":"independent","y":"independent"}},
"layer":[
{"transform":[{"filter":"datum.p === 'd'"}],"mark":{"type":"line","strokeWidth":1.3},
"encoding":{
"x":{"field":"t","type":"quantitative","scale":{"domain":[0,100],"nice":false},"axis":{"orient":"bottom","title":"Tiempo [ms]","titleFont":"Liberation Serif","titleFontSize":37,"titleFontWeight":"normal","titleColor":"black","titlePadding":2,"labelExpr":"datum.value % 10 === 0 ? datum.label : ''","labelOverlap":false,"labelFlush":false,"labelFont":"Liberation Sans","labelFontSize":30,"labelColor":"#262626","labelPadding":31,"values":[0,2,4,6,8,10,12,14,16,18,20,22,24,26,28,30,32,34,36,38,40,42,44,46,48,50,52,54,56,58,60,62,64,66,68,70,72,74,76,78,80,82,84,86,88,90,92,94,96,98,100],"grid":true,"gridColor":"#b3b3b3","gridDash":[1.6,7.4],"gridWidth":1.6,"tickSize":-12,"tickWidth":2,"tickColor":"#262626","tickOpacity":{"condition":{"test":"datum.value % 10 === 0","value":1},"value":0}}},
"y":{"field":"v","type":"quantitative","scale":{"domain":[-9.5,211.5],"nice":false,"zero":false},"axis":{"orient":"left","values":[0,20,40,60,80,100,120,140,160,180,200],"labelExpr":"datum.value % 100 === 0 ? datum.label : ''","labelOverlap":false,"labelFont":"Liberation Sans","labelFontSize":30,"labelColor":"#262626","labelPadding":22,"grid":true,"gridColor":"#b3b3b3","gridDash":[1.6,7.4],"gridWidth":1.6,"tickSize":-12,"tickWidth":2,"tickColor":"#262626","tickOpacity":{"condition":{"test":"datum.value % 100 === 0","value":1},"value":0},"title":"Tension [V]","titleFont":"Liberation Serif","titleFontSize":36,"titleFontWeight":"normal","titleColor":"black","titlePadding":14}},
"color":{"field":"s","type":"nominal","scale":{"domain":["B","O","Y","P","L","R"],"range":["#0072BD","#D95319","#EDB120","#7E2F8E","#4DBEEE","#A2142F"]},"legend":null}}},
{"data":{"values":[{"v":100},{"v":200}]},"mark":{"type":"rule","color":"black","strokeWidth":1},
"encoding":{"y":{"field":"v","type":"quantitative","scale":{"domain":[-9.5,211.5],"nice":false,"zero":false},"axis":{"orient":"right","values":[0,100,200],"labels":false,"grid":false,"tickSize":-12,"tickWidth":2,"tickColor":"#262626","title":"(d)","titleAngle":0,"titleAlign":"left","titleBaseline":"middle","titleFont":"Liberation Serif","titleFontSize":37,"titleFontWeight":"normal","titleColor":"black","titlePadding":16}}}},
{"data":{"values":[{"t":0},{"t":100}]},"mark":{"type":"rule","strokeOpacity":0},
"encoding":{"x":{"field":"t","type":"quantitative","scale":{"domain":[0,100],"nice":false},"axis":{"orient":"top","values":[0,10,20,30,40,50,60,70,80,90,100],"labels":false,"grid":false,"title":null,"tickSize":-12,"tickWidth":2,"tickColor":"#262626"}}}}
]}
]
}
